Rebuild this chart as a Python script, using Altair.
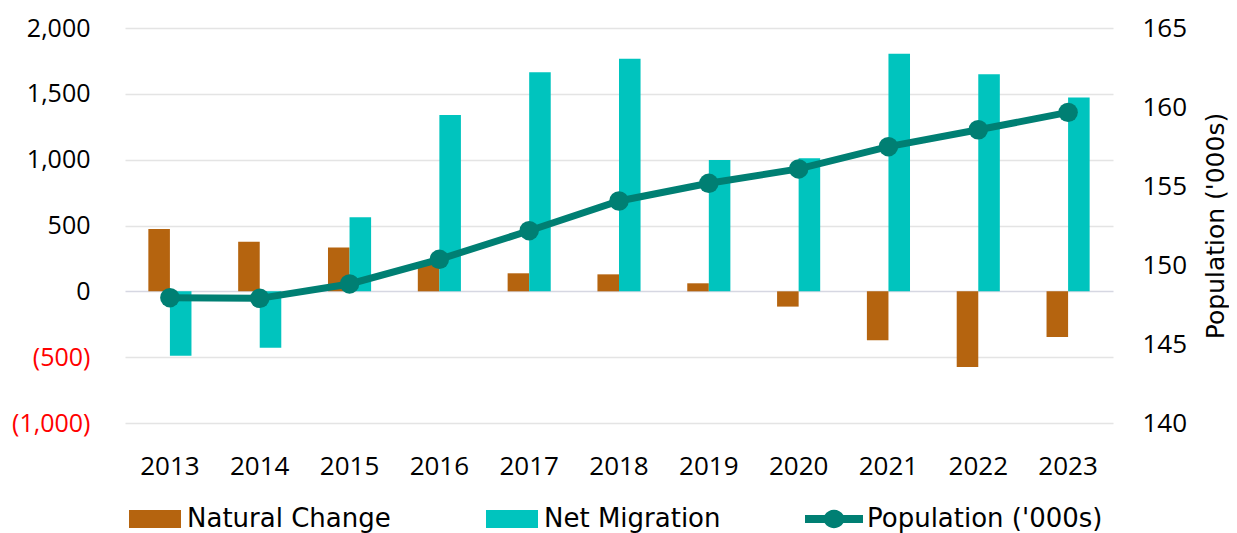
import altair as alt
import pandas as pd

years = [str(y) for y in range(2013, 2024)]
natural_change = [473, 377, 332, 220, 137, 129, 61, -116, -372, -575, -347]
net_migration = [-489, -428, 562, 1339, 1663, 1767, 997, 1010, 1805, 1648, 1473]
population = [147.93, 147.89, 148.80, 150.36, 152.17, 154.05, 155.17, 156.08, 157.49, 158.56, 159.66]

series_bars = ["Natural Change", "Net Migration"]
series_line = ["Population ('000s)"]
left_ticks = [-1000, -500, 0, 500, 1000, 1500, 2000]
right_ticks = [140, 145, 150, 155, 160, 165]

bars_df = pd.DataFrame(
    [{"year": y, "series": series_bars[0], "value": v} for y, v in zip(years, natural_change)]
    + [{"year": y, "series": series_bars[1], "value": v} for y, v in zip(years, net_migration)]
)
line_df = pd.DataFrame({"year": years, "series": series_line[0], "pop": population})

AX_FONT = "Open Sans"
LG_FONT = "DejaVu Sans"
ORANGE, CYAN, TEAL = "#B5640F", "#00C4BE", "#007F73"

W, H = 988, 395

xenc = alt.X(
    "year:N",
    sort=years,
    scale=alt.Scale(paddingInner=0.52, paddingOuter=0.26),
    axis=alt.Axis(title=None, domain=False, ticks=False, labelPadding=30,
                  labelFontSize=26, labelColor="#000000", labelFont=AX_FONT, labelAngle=0),
)

bars = alt.Chart(bars_df).mark_bar().encode(
    x=xenc,
    xOffset=alt.XOffset("series:N", sort=series_bars),
    y=alt.Y(
        "value:Q",
        scale=alt.Scale(domain=[-1000, 2000], nice=False),
        axis=alt.Axis(
            title=None, values=left_ticks,
            domain=False, ticks=False, labelPadding=35, labelFontSize=25, labelFont=AX_FONT,
            grid=True, gridWidth=1.6,
            gridColor={"condition": {"test": "datum.value === 0", "value": "#D6D7E2"}, "value": "#E4E4E4"},
            labelExpr="datum.value < 0 ? '(' + format(-datum.value, ',') + ')' : format(datum.value, ',')",
            labelColor={"condition": {"test": "datum.value < 0", "value": "#FF0000"}, "value": "#000000"},
        ),
    ),
    color=alt.Color(
        "series:N",
        scale=alt.Scale(domain=series_bars, range=[ORANGE, CYAN]),
        legend=alt.Legend(
            title=None, orient="none", legendX=17, legendY=478, direction="horizontal",
            labelFontSize=26, labelFont=LG_FONT, labelColor="#000000", labelLimit=400,
            symbolType="M-2,-0.69H2V0.69H-2Z", symbolSize=676, symbolStrokeWidth=0,
            columnPadding=95, labelOffset=19, padding=0,
        ),
    ),
)

line = alt.Chart(line_df).mark_line(
    strokeWidth=7, point=alt.OverlayMarkDef(size=380, filled=True, opacity=1)
).encode(
    x=alt.X("year:N", sort=years),
    y=alt.Y(
        "pop:Q",
        scale=alt.Scale(domain=[140, 165], nice=False),
        axis=alt.Axis(
            title="Population ('000s)", orient="right", values=right_ticks,
            domain=False, ticks=False, grid=False, labelPadding=29, labelFontSize=26,
            labelFont=AX_FONT, labelColor="#000000", titleFontSize=25, titleFont=LG_FONT,
            titleFontWeight="normal", titleColor="#000000",
            titleAngle=270, titleX=102, titleY=H / 2, titleAlign="center", titleBaseline="middle",
        ),
    ),
    color=alt.Color(
        "series:N",
        scale=alt.Scale(domain=series_line, range=[TEAL]),
        legend=alt.Legend(
            title=None, orient="none", legendX=696, legendY=478,
            labelFontSize=26, labelFont=LG_FONT, labelColor="#000000", labelLimit=400,
            symbolType="M-2.23,-0.31H-0.72A0.85,0.85 0 0 1 0.72,-0.31H2.23V0.31H0.72A0.85,0.85 0 0 1 -0.72,0.31H-2.23Z",
            symbolSize=676, symbolStrokeWidth=0, symbolFillColor=TEAL, labelOffset=20, padding=0,
        ),
    ),
)

chart = (
    alt.layer(bars, line)
    .resolve_scale(y="independent", color="independent")
    .properties(
        width=W, height=H,
        autosize=alt.AutoSizeParams(type="none"),
        padding={"left": 117, "top": 20, "right": 116, "bottom": 116},
    )
    .configure_view(stroke=None)
)

chart.save("out.html", embed_options={"renderer": "svg", "actions": False})
